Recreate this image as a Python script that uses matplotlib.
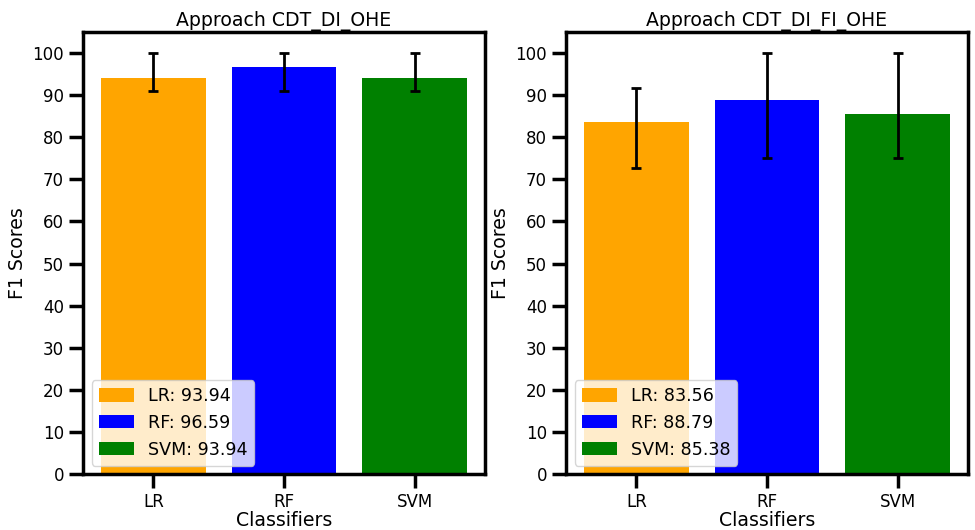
import matplotlib
matplotlib.use("Agg")
import matplotlib.pyplot as plt
import numpy as np

classificadores = ["LR", "RF", "SVM"]
cores = ["orange", "blue", "green"]

titulos = ["Approach CDT_DI_OHE", "Approach CDT_DI_FI_OHE"]
medias = [[93.94, 96.59, 93.94], [83.56, 88.79, 85.38]]
minimos = [[91.0, 91.0, 91.0], [72.7, 75.0, 75.0]]
maximos = [[100.0, 100.0, 100.0], [91.7, 100.0, 100.0]]

plt.rcParams["font.size"] = 12

fig, axes = plt.subplots(1, 2, figsize=(9.75, 5.3), dpi=100)

for ax, titulo, med, mn, mx in zip(axes, titulos, medias, minimos, maximos):
    x = np.arange(len(classificadores))
    erro = [np.array(med) - np.array(mn), np.array(mx) - np.array(med)]
    for i, c in enumerate(classificadores):
        ax.bar(x[i], med[i], color=cores[i], label=f"{c}: {med[i]:.2f}")
    ax.errorbar(x, med, yerr=erro, fmt="none", ecolor="black", elinewidth=2,
                capsize=3.5, capthick=2)
    ax.set_xticks(x)
    ax.set_xticklabels(classificadores)
    ax.set_yticks(range(0, 101, 10))
    ax.set_ylim(0, 105)
    ax.set_title(titulo, fontsize=13.6, pad=4)
    ax.set_xlabel("Classifiers", fontsize=13.6, labelpad=0)
    ax.set_ylabel("F1 Scores", fontsize=13.6)
    ax.tick_params(width=2.5, length=10)
    for s in ax.spines.values():
        s.set_linewidth(2.5)
    ax.legend(loc="lower left", fontsize=12.6, handleheight=0.8)

plt.subplots_adjust(left=0.085, right=0.993, top=0.94, bottom=0.105, wspace=0.2)
plt.savefig("out.png")
